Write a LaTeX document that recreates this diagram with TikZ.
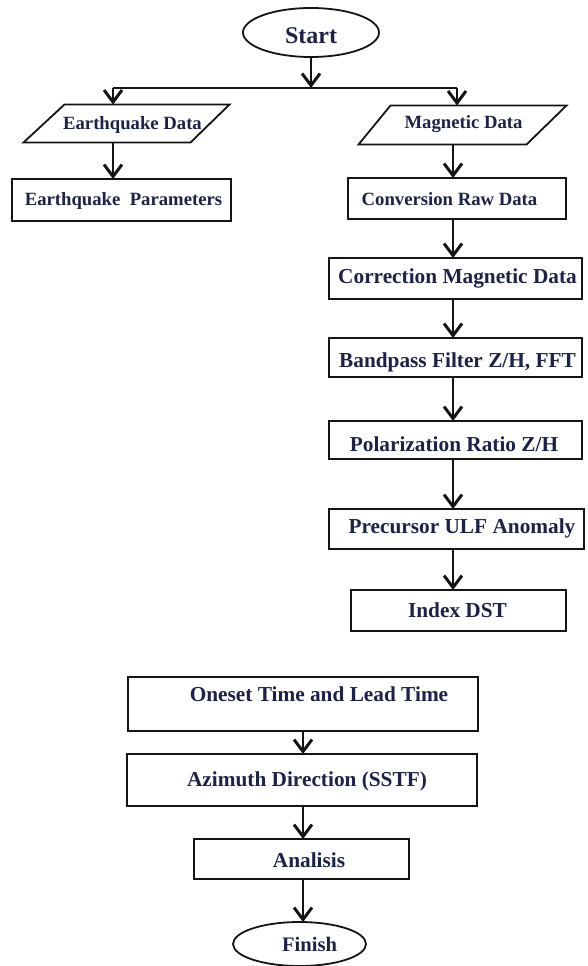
\documentclass[tikz,border=0pt]{standalone}
\usepackage{fontspec}
\setmainfont{Liberation Serif}
\usetikzlibrary{arrows.meta,shapes.geometric}
\definecolor{txtc}{RGB}{28,34,72}
\definecolor{linec}{RGB}{20,20,20}
\tikzset{
  box/.style={draw=linec, line width=1.8pt, inner sep=0pt, outer sep=0pt, fill=white},
  oval/.style={ellipse, draw=linec, line width=1.8pt, inner sep=0pt, outer sep=0pt},
  frame/.style={rectangle, inner sep=0pt, outer sep=0pt},
  outline/.style={draw=linec, line width=1.8pt, line join=miter},
  txt/.style={text=txtc, inner sep=0pt, text depth=0pt},
  fs/.style={font=\bfseries\fontsize{#1}{#1}\selectfont, text height=\fpeval{0.66*#1}pt},
  conn/.style={draw=linec, line width=2.2pt},
  arr/.style={conn, -{Straight Barb[length=12pt,width=18pt,line width=3pt]}}
}
\begin{document}
\begin{tikzpicture}[x=1pt,y=-1pt]
\useasboundingbox (0,0) rectangle (587,966);

% shapes
\node[oval, minimum width=136pt, minimum height=49pt] (start) at (311,32.5) {};
\node[frame, minimum width=206pt, minimum height=38pt] (eqd) at (126.5,123.5) {};
\draw[outline] (eqd.south west) -- ([xshift=41pt]eqd.north west) -- (eqd.north east)
  -- ([xshift=-39pt]eqd.south east) -- cycle;
\node[frame, minimum width=208pt, minimum height=39pt] (mgd) at (462.5,125) {};
\draw[outline] (mgd.south west) -- ([xshift=32pt]mgd.north west) -- (mgd.north east)
  -- ([xshift=-40pt]mgd.south east) -- cycle;
\node[box, minimum width=219pt, minimum height=42pt] (eqp) at (121.5,200) {};
\node[box, minimum width=218pt, minimum height=41pt] (conv) at (457,198.5) {};
\node[box, minimum width=253pt, minimum height=41pt] (corr) at (455.5,278.5) {};
\node[box, minimum width=253pt, minimum height=39pt] (band) at (455.5,357.5) {};
\node[box, minimum width=253pt, minimum height=38pt] (pol) at (455.5,440) {};
\node[box, minimum width=255pt, minimum height=40pt] (pre) at (456.5,529) {};
\node[box, minimum width=215pt, minimum height=41pt] (idx) at (458.5,610.5) {};
\node[box, minimum width=350pt, minimum height=54pt] (one) at (303,704) {};
\node[box, minimum width=350pt, minimum height=52pt] (azi) at (302,780) {};
\node[box, minimum width=215pt, minimum height=40pt] (ana) at (301.5,859) {};
\node[oval, minimum width=133pt, minimum height=44pt] (fin) at (299.5,944) {};

% texts
\node[txt, fs=24] (tstart) at (311,36) {Start};
\node[txt, fs=18.7] (teqd) at (132.5,123) {Earthquake Data};
\node[txt, fs=18.7] (tmgd) at (463.5,122.5) {Magnetic Data};
\node[txt, fs=18.7] (teqp) at (123.5,199) {Earthquake\ \ Parameters};
\node[txt, fs=18.7] (tconv) at (449.5,199) {Conversion Raw Data};
\node[txt, fs=21.3] (tcorr) at (457.5,276.5) {Correction Magnetic Data};
\node[txt, fs=21.3] (tband) at (457.5,360) {Bandpass Filter Z/H, FFT};
\node[txt, fs=21.3] (tpol) at (454,444.5) {Polarization Ratio Z/H};
\node[txt, fs=21.3] (tpre) at (462,526.5) {Precursor ULF Anomaly};
\node[txt, fs=21.3] (tidx) at (457.5,610.5) {Index DST};
\node[txt, fs=21.3] (tone) at (319,694) {Oneset Time and Lead Time};
\node[txt, fs=21.3] (tazi) at (307,779.5) {Azimuth Direction (SSTF)};
\node[txt, fs=21.3] (tana) at (309,860.5) {Analisis};
\node[txt, fs=20.6] (tfin) at (309.5,945) {Finish};

% connectors
\coordinate (hl1) at (113,88);
\coordinate (hl2) at (457,88);
\coordinate (rc) at (453,0);
\coordinate (lc) at (303,0);
\draw[arr] (start.south) -- (start.south |- hl1);
\draw[conn] (hl1) -- (hl2);
\draw[arr] (hl1) -- (hl1 |- eqd.north);
\draw[arr] (hl2) -- (hl2 |- mgd.north);
\draw[arr] (hl1 |- eqd.south) -- (hl1 |- eqp.north);
\draw[arr] (rc |- mgd.south) -- (rc |- conv.north);
\draw[arr] (rc |- conv.south) -- (rc |- corr.north);
\draw[arr] (rc |- corr.south) -- (rc |- band.north);
\draw[arr] (rc |- band.south) -- (rc |- pol.north);
\draw[arr] (rc |- pol.south) -- (rc |- pre.north);
\draw[arr] (rc |- pre.south) -- (rc |- idx.north);
\draw[arr] (lc |- one.south) -- (lc |- azi.north);
\draw[arr] (lc |- azi.south) -- (lc |- ana.north);
\draw[arr] (lc |- ana.south) -- (lc |- fin.north);
\end{tikzpicture}
\end{document}
